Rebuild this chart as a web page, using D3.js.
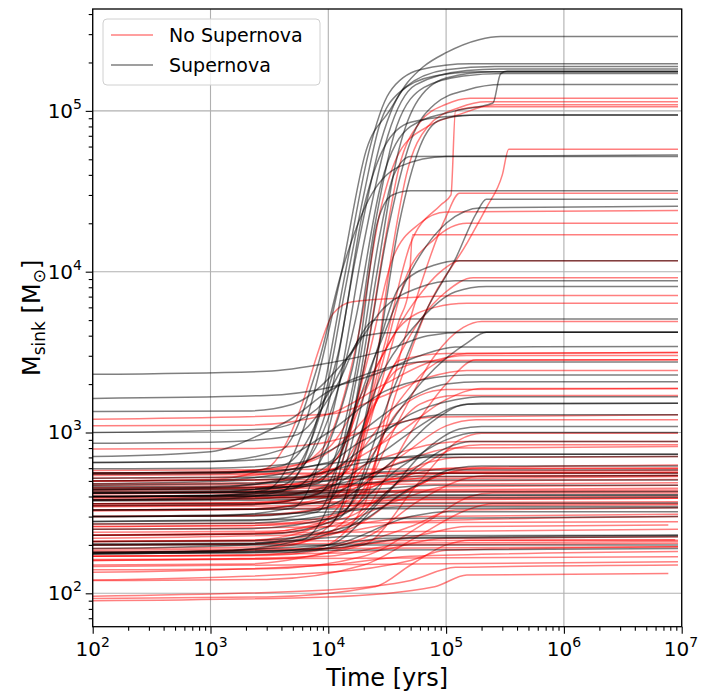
<!DOCTYPE html>
<html>
<head>
<meta charset="utf-8">
<script src="https://cdn.jsdelivr.net/npm/d3@7"></script>
<style>
  body { margin: 0; background: #fff; }
  svg { font-family: "DejaVu Sans", sans-serif; }
</style>
</head>
<body>
<svg id="svg" width="701" height="691"></svg>
<script>
// sink mass tracks [time (yr), mass (Msun)]
var noSnTracks = [
  [[1e2,400],[1e3,405],[4e3,430],[1.2e4,600],[2e4,2500],[3e4,1.5e4],[4e4,4.5e4],[6e4,8.5e4],[1e5,1.1e5],[1.6e5,1.2e5],[9.3e6,1.2e5]],
  [[1e2,180],[1e3,182],[5e3,200],[1.2e4,300],[2.4e4,2000],[3.4e4,1.2e4],[4.6e4,4e4],[7e4,8e4],[1.3e5,1.05e5],[2.2e5,1.14e5],[9.3e6,1.14e5]],
  [[1e2,520],[1e3,525],[4e3,570],[9e3,800],[1.8e4,4000],[2.8e4,2.5e4],[4e4,5.5e4],[7e4,8e4],[1.3e5,9.5e4],[2.6e5,1.09e5],[9.3e6,1.09e5]],
  [[1e2,350],[1e3,352],[5e3,380],[1.5e4,600],[3e4,3500],[5e4,1.5e4],[9e4,2.6e4],[1.1e5,3e4],[1.2e5,1.0e5],[2e5,1.06e5],[9.3e6,1.06e5]],
  [[1e2,230],[2e3,235],[8e3,270],[2e4,450],[4e4,2000],[7e4,6000],[1.5e5,1.5e4],[2.2e5,2.5e4],[3e5,4e4],[3.4e5,5.78e4],[9.3e6,5.78e4]],
  [[1e2,170],[2e3,172],[8e3,190],[2e4,350],[3.5e4,2000],[6e4,8000],[1e5,2.2e4],[1.3e5,3.07e4],[9.3e6,3.07e4]],
  [[1e2,440],[1e3,445],[5e3,480],[1.2e4,700],[2.2e4,3000],[3.5e4,1.2e4],[6e4,2e4],[1e5,2.35e4],[9.3e6,2.4e4]],
  [[1e2,300],[2e3,305],[7e3,330],[1.5e4,500],[2.8e4,2500],[4.5e4,9000],[8e4,1.6e4],[1.5e5,2e4],[9.3e6,2e4]],
  [[1e2,210],[2e3,213],[6e3,240],[1.4e4,400],[2.5e4,1500],[4e4,5000],[4.8e4,7500],[5.2e4,1.7e4],[9.3e6,1.7e4]],
  [[1e2,560],[1e3,565],[4e3,600],[1e4,800],[2.5e4,2500],[5e4,6000],[9e4,1e4],[1.3e5,1.17e4],[9.3e6,1.17e4]],
  [[1e2,380],[2e3,385],[6e3,420],[1.3e4,560],[3e4,2000],[6e4,5000],[1e5,7500],[1.7e5,9180],[9.3e6,9180]],
  [[1e2,500],[1e3,510],[3e3,600],[6e3,1500],[8e3,3000],[1.1e4,5500],[1.6e4,6500],[5e4,6900],[1.5e5,7100],[9.3e6,7100]],
  [[1e2,420],[2e3,430],[6e3,480],[1.2e4,700],[2.2e4,2000],[4e4,4500],[8e4,6000],[1.5e5,6370],[9.3e6,6370]],
  [[1e2,190],[3e3,195],[8e3,220],[1.5e4,300],[4e4,1200],[8e4,3000],[1.4e5,4500],[2e5,4900],[9.3e6,4900]],
  [[1e2,350],[2e3,355],[5e3,380],[1e4,450],[3e4,1200],[7e4,2500],[1.5e5,3100],[9.3e6,3140]],
  [[1e2,1100],[2e3,1110],[1e4,1300],[3e4,2000],[8e4,2800],[1.5e5,3010],[9.3e6,3010]],
  [[1e2,210],[3e3,215],[1e4,240],[2e4,320],[5e4,1000],[1e5,2000],[1.8e5,2830],[9.3e6,2830]],
  [[1e2,1210],[1e4,1300],[3e4,1700],[7e4,2200],[1.5e5,2430],[9.3e6,2430]],
  [[1e2,500],[3e3,510],[1e4,580],[4e4,1000],[1e5,1600],[2e5,1880],[9.3e6,1880]],
  [[1e2,260],[3e3,265],[1e4,290],[2e4,400],[3e4,1000],[6e4,1700],[1e5,1850],[9.3e6,1880]],
  [[1e2,790],[2e3,795],[8e3,850],[3e4,1100],[8e4,1250],[9.3e6,1290]],
  [[1e2,330],[2e3,335],[1e4,380],[4e4,700],[1e5,1100],[1.8e5,1200],[9.3e6,1200]],
  [[1e2,160],[3e3,163],[2e4,200],[6e4,500],[1.3e5,900],[2e5,990],[9.3e6,990]],
  [[1e2,400],[2e3,405],[1e4,440],[4e4,650],[1.2e5,800],[9.3e6,817]],
  [[1e2,360],[1e3,362],[5e3,380],[3e4,500],[1e5,600],[9.3e6,629]],
  [[1e2,260],[2e3,263],[1e4,300],[5e4,450],[1.2e5,570],[9.3e6,585]],
  [[1e2,500],[1e4,510],[9.3e6,532]],
  [[1e2,470],[1e4,475],[9.3e6,487]],
  [[1e2,230],[2e3,233],[1e4,260],[4e4,380],[1e5,460],[9.3e6,470]],
  [[1e2,430],[5e3,432],[9.3e6,439]],
  [[1e2,390],[9.3e6,400]],
  [[1e2,360],[1e4,370],[6e4,385],[9.3e6,390]],
  [[1e2,360],[9.3e6,371]],
  [[1e2,550],[1e4,560],[9.3e6,565]],
  [[1e2,150],[2e3,152],[1e4,180],[5e4,260],[1.2e5,330],[9.3e6,340]],
  [[1e2,270],[9.3e6,279]],
  [[1e2,180],[1e4,190],[6e4,230],[1.5e5,260],[7.7e6,266]],
  [[1e2,93],[3e3,95],[2.5e4,110],[5e4,150],[1e5,200],[1.6e5,214],[9.3e6,214]],
  [[1e2,121],[1e4,135],[5e4,160],[1e5,185],[9.3e6,195]],
  [[1e2,135],[1e4,150],[5e4,170],[9.3e6,182]],
  [[1e2,162],[9.3e6,169]],
  [[1e2,147],[9.3e6,157]],
  [[1e2,96],[1e4,105],[5e4,120],[1.2e5,145],[9.3e6,150]],
  [[1e2,90],[1e4,95],[8e4,110],[1.5e5,130],[7.7e6,133]],
  [[1e2,580],[1e4,590],[9.3e6,600]],
  [[1e2,540],[2e4,555],[9.3e6,560]],
  [[1e2,455],[1e4,460],[6e4,500],[9.3e6,510]],
  [[1e2,415],[3e4,425],[9.3e6,430]],
  [[1e2,395],[1e4,400],[5e4,440],[9.3e6,450]],
  [[1e2,345],[1e4,350],[9.3e6,355]],
  [[1e2,325],[1e4,340],[4e4,380],[9.3e6,390]],
  [[1e2,230],[1e4,240],[9.3e6,250]],
  [[1e2,220],[1e4,235],[5e4,280],[9.3e6,300]],
  [[1e2,200],[9.3e6,210]],
  [[1e2,185],[1e4,190],[9.3e6,195]],
  [[1e2,170],[2e4,180],[1e5,220],[9.3e6,225]],
  [[1e2,210],[8.8e6,215]],
  [[1e2,250],[1e4,260],[6e4,300],[9.3e6,310]],
  [[1e2,440],[1e4,450],[4e4,520],[1.2e5,560],[9.3e6,565]],
  [[1e2,380],[1e4,400],[3e4,480],[8e4,530],[9.3e6,540]],
  [[1e2,160],[1e4,170],[4e4,200],[9.3e6,205]],
  [[1e2,480],[2e3,485],[1.2e4,600],[2.5e4,1500],[4e4,2800],[1e5,3100],[9.3e6,3140]],
  [[1e2,450],[2e3,455],[1e4,520],[3e4,700],[8e4,850],[1.5e5,880],[9.3e6,880]],
  [[1e2,300],[2e3,303],[1e4,340],[3e4,500],[7e4,650],[1.3e5,700],[9.3e6,710]],
  [[1e2,200],[3e3,203],[1.5e4,250],[4e4,400],[1e5,560],[2e5,600],[9.3e6,600]],
  [[1e2,240],[3e3,243],[1.5e4,300],[5e4,550],[1.2e5,800],[2e5,840],[9.3e6,840]],
  [[1e2,170],[3e3,172],[2e4,220],[6e4,380],[1.5e5,520],[2.2e5,540],[9.3e6,540]],
  [[1e2,120],[3e3,122],[2e4,150],[6e4,230],[1.5e5,330],[2.5e5,360],[9.3e6,360]],
  [[1e2,330],[2e3,333],[1.2e4,420],[3e4,900],[6e4,1500],[1.2e5,1700],[9.3e6,1700]],
  [[1e2,560],[1e3,565],[6e3,640],[2e4,1200],[4e4,2500],[8e4,2800],[9.3e6,2830]],
  [[1e2,140],[3e3,142],[2e4,170],[7e4,280],[1.6e5,400],[2.5e5,420],[9.3e6,420]]
];

var snTracks = [
  [[1e2,400],[1e3,405],[3e3,440],[6e3,1000],[1.26e4,9000],[2.1e4,5.7e4],[3.3e4,1.0e5],[4.7e4,1.5e5],[6.4e4,1.88e5],[1.0e5,2.3e5],[1.9e5,2.77e5],[2.9e5,2.9e5],[9.3e6,2.9e5]],
  [[1e2,380],[1e3,385],[4e3,430],[8e3,1200],[1.4e4,1.0e4],[2.2e4,5.5e4],[3.3e4,1.3e5],[6e4,1.8e5],[1.6e5,1.96e5],[9.3e6,1.96e5]],
  [[1e2,420],[1e3,425],[4e3,470],[1e4,1500],[1.7e4,1.2e4],[2.8e4,6.5e4],[4.5e4,1.4e5],[1e5,1.8e5],[2.6e5,1.89e5],[9.3e6,1.89e5]],
  [[1e2,300],[1e3,302],[5e3,340],[1.2e4,1800],[2e4,1.5e4],[3.2e4,7e4],[5.5e4,1.45e5],[1.5e5,1.78e5],[2.8e5,1.82e5],[9.3e6,1.82e5]],
  [[1e2,450],[1e3,455],[4e3,510],[9e3,1500],[1.4e4,8000],[2e4,3e4],[2.7e4,8e4],[4e4,1.3e5],[8e4,1.65e5],[2e5,1.75e5],[9.3e6,1.75e5]],
  [[1e2,180],[1e3,182],[6e3,215],[1.6e4,1200],[2.6e4,1e4],[3.8e4,5e4],[5.5e4,1.1e5],[1e5,1.6e5],[2.5e5,1.75e5],[9.3e6,1.75e5]],
  [[1e2,400],[1e3,404],[5e3,450],[1.6e4,2500],[2.5e4,2e4],[3.8e4,8e4],[6.5e4,1.4e5],[1.4e5,1.65e5],[3e5,1.71e5],[9.3e6,1.71e5]],
  [[1e2,350],[2e3,355],[8e3,410],[2e4,2500],[3.2e4,1.8e4],[5e4,6.5e4],[8e4,1.1e5],[1.5e5,1.35e5],[3e5,1.46e5],[9.3e6,1.46e5]],
  [[1e2,550],[1e3,555],[4e3,620],[1.2e4,3000],[2e4,2.5e4],[3e4,6e4],[5e4,8.5e4],[1.2e5,9.3e4],[2.5e5,9.45e4],[9.3e6,9.45e4]],
  [[1e2,200],[2e3,203],[1e4,260],[2.5e4,2500],[4e4,2e4],[6e4,6e4],[9e4,8.8e4],[1.6e5,9.4e4],[9.3e6,9.4e4]],
  [[1e2,500],[1e3,505],[5e3,570],[1.7e4,5000],[2.8e4,3.5e4],[5e4,8e4],[1.2e5,1e5],[2.5e5,1.12e5],[2.9e5,1.7e5],[3.3e5,1.77e5],[9.3e6,1.77e5]],
  [[1e2,280],[2e3,283],[8e3,320],[1.8e4,2500],[2.7e4,1.6e4],[3.6e4,4e4],[5e4,5.2e4],[9.3e6,5.32e4]],
  [[1e2,650],[1e3,660],[4e3,780],[8e3,2500],[1.3e4,1e4],[2.2e4,2.8e4],[4e4,4.5e4],[1e5,5.2e4],[9.3e6,5.2e4]],
  [[1e2,420],[2e3,425],[8e3,480],[1.8e4,3000],[2.6e4,2e4],[3.5e4,3e4],[5e4,3.19e4],[9.3e6,3.19e4]],
  [[1e2,230],[3e3,234],[1.2e4,290],[3.5e4,1800],[7e4,6000],[1.2e5,1.2e4],[1.8e5,2.3e4],[2.2e5,2.82e4],[9.3e6,2.82e4]],
  [[1e2,560],[2e3,565],[1e4,650],[2.5e4,3000],[5e4,1e4],[1e5,2e4],[2e5,2.5e4],[9.3e6,2.55e4]],
  [[1e2,330],[2e3,333],[1e4,380],[2.5e4,3000],[4e4,8000],[8e4,1.1e4],[1.3e5,1.17e4],[9.3e6,1.17e4]],
  [[1e2,2300],[3e3,2400],[1e4,2700],[3.3e4,3300],[7e4,4000],[1.5e5,4200],[9.3e6,4200]],
  [[1e2,1630],[3e3,1700],[1e4,1900],[2.5e4,2300],[6e4,3000],[1.2e5,3400],[9.3e6,3420]],
  [[1e2,1350],[2e3,1360],[5e3,1500],[1.5e4,3000],[3e4,6000],[6e4,8000],[1.2e5,8770],[9.3e6,8770]],
  [[1e2,440],[2e3,444],[1.2e4,520],[3e4,2500],[6e4,5000],[1.2e5,7500],[2.2e5,8080],[9.3e6,8080]],
  [[1e2,1000],[3e3,1050],[8e3,1400],[1.5e4,3000],[2.5e4,5000],[5e4,5080],[9.3e6,5080]],
  [[1e2,857],[1e3,870],[5e3,950],[1.2e4,2000],[2e4,4000],[4e4,4200],[9.3e6,4200]],
  [[1e2,270],[2e3,273],[1.3e4,320],[3e4,1000],[8e4,2500],[1.5e5,3600],[2.2e5,4200],[9.3e6,4200]],
  [[1e2,708],[1e3,760],[2.8e3,990],[4.7e3,1200],[1e4,1800],[3e4,2500],[6e4,2740],[9.3e6,2740]],
  [[1e2,651],[1e3,660],[4e3,700],[1e4,1000],[3e4,1800],[8e4,2200],[1.5e5,2280],[9.3e6,2280]],
  [[1e2,595],[1e3,600],[5e3,640],[1.5e4,900],[4e4,1500],[1e5,2000],[2e5,2070],[9.3e6,2070]],
  [[1e2,429],[1e3,432],[6e3,470],[2e4,800],[5e4,1300],[1.2e5,1600],[2e5,1670],[9.3e6,1670]],
  [[1e2,400],[2e3,403],[8e3,430],[2.5e4,700],[6e4,1100],[1.2e5,1450],[2e5,1520],[9.3e6,1520]],
  [[1e2,300],[2e3,302],[8e3,330],[3e4,600],[8e4,1200],[1.5e5,1500],[9.3e6,1520]],
  [[1e2,177],[2e3,179],[1e4,200],[3e4,400],[7e4,800],[1.3e5,1050],[2e5,1090],[9.3e6,1090]],
  [[1e2,203],[2e3,205],[1.2e4,240],[4e4,500],[1e5,800],[1.6e5,880],[9.3e6,880]],
  [[1e2,480],[5e3,520],[2e4,650],[6e4,720],[1.2e5,733],[9.3e6,733]],
  [[1e2,380],[1e4,420],[3e4,600],[8e4,720],[1.5e5,733],[9.3e6,733]],
  [[1e2,560],[3e3,570],[1e4,640],[4e4,700],[9.3e6,708]],
  [[1e2,470],[1e4,500],[3e4,570],[9e4,585],[9.3e6,585]],
  [[1e2,400],[5e3,420],[2e4,520],[6e4,558],[9.3e6,558]],
  [[1e2,440],[1e4,470],[4e4,500],[1e5,507],[9.3e6,507]],
  [[1e2,380],[3e3,390],[2e4,405],[9.3e6,409]],
  [[1e2,400],[1e3,402],[1e4,408],[9.3e6,409]],
  [[1e2,300],[1e4,320],[5e4,346],[9.3e6,346]],
  [[1e2,177],[1e4,200],[5e4,300],[1e5,322],[9.3e6,322]],
  [[1e2,280],[1e4,290],[9.3e6,300]],
  [[1e2,177],[5e3,180],[3e4,220],[9.3e6,230]],
  [[1e2,190],[2e3,200],[2e4,228],[9.3e6,230]],
  [[1e2,200],[1e4,200],[9.3e6,200]],
  [[1e2,375],[3e3,380],[1e4,390],[9.3e6,395]],
  [[1e2,420],[2e4,440],[8e4,470],[9.3e6,470]],
  [[1e2,360],[9.3e6,365]],
  [[1e2,520],[1e4,530],[9.3e6,540]],
  [[1e2,420],[1e4,425],[9.3e6,430]],
  [[1e2,330],[1e4,335],[9.3e6,340]],
  [[1e2,180],[1e4,185],[9.3e6,190]],
  [[1e2,175],[1e4,190],[5e4,220],[9.3e6,225]],
  [[1e2,250],[2e3,252],[1.2e4,300],[4e4,600],[1e5,900],[1.8e5,1000],[9.3e6,1000]],
  [[1e2,460],[1e3,462],[6e3,520],[2e4,900],[5e4,1200],[1e5,1290],[9.3e6,1290]],
  [[1e2,210],[2e3,212],[1.5e4,260],[5e4,450],[1.2e5,600],[2e5,620],[9.3e6,620]]
];

var seriesNames = ["No Supernova", "Supernova"];
var seriesColors = ["red", "black"];
var xMajor = [1e2, 1e3, 1e4, 1e5, 1e6, 1e7];
var yMajor = [1e2, 1e3, 1e4, 1e5];
var xLimits = [1e2, 1e7];
var yLimits = [62, 4.3e5];

var svg = d3.select("#svg");
var L = 92.7, R = 681.7, T = 9, B = 626.7;

var x = d3.scaleLog().domain(xLimits).range([L, R]);
var y = d3.scaleLog().domain(yLimits).range([B, T]);

svg.append("clipPath").attr("id", "clip")
    .append("rect")
    .attr("x", L).attr("y", T)
    .attr("width", R - L).attr("height", B - T);

//grid
var grid = svg.append("g");
grid.selectAll(".gx").data(xMajor).enter().append("line")
    .attr("x1", d => x(d)).attr("x2", d => x(d))
    .attr("y1", T).attr("y2", B)
    .attr("stroke", "#b0b0b0").attr("stroke-width", 1.1);
grid.selectAll(".gy").data(yMajor).enter().append("line")
    .attr("x1", L).attr("x2", R)
    .attr("y1", d => y(d)).attr("y2", d => y(d))
    .attr("stroke", "#b0b0b0").attr("stroke-width", 1.1);

var line = d3.line()
    .x(d => x(d[0]))
    .y(d => y(d[1]))
    .curve(d3.curveMonotoneX);

var plot = svg.append("g").attr("clip-path", "url(#clip)");
[noSnTracks, snTracks].forEach((tracks, k) => {
    plot.append("g").selectAll("path")
        .data(tracks)
        .enter()
        .append("path")
        .attr("d", line)
        .attr("fill", "none")
        .attr("stroke", seriesColors[k])
        .attr("stroke-opacity", 0.5)
        .attr("stroke-width", 1.5);
});

//axes with minor ticks
var xMinor = x.ticks().filter(v => xMajor.indexOf(v) < 0);
var yMinor = y.ticks().filter(v => yMajor.indexOf(v) < 0);

function styleAxis(g) {
    g.select(".domain").remove();
    g.selectAll("line").attr("stroke", "black").attr("stroke-width", 1.1);
}
svg.append("g").attr("transform", "translate(0," + B + ")")
    .call(d3.axisBottom(x).tickValues(xMinor).tickSize(4).tickFormat(""))
    .call(styleAxis);
svg.append("g").attr("transform", "translate(0," + B + ")")
    .call(d3.axisBottom(x).tickValues(xMajor).tickSize(7).tickFormat(""))
    .call(styleAxis);
svg.append("g").attr("transform", "translate(" + L + ",0)")
    .call(d3.axisLeft(y).tickValues(yMinor).tickSize(4).tickFormat(""))
    .call(styleAxis);
svg.append("g").attr("transform", "translate(" + L + ",0)")
    .call(d3.axisLeft(y).tickValues(yMajor).tickSize(7).tickFormat(""))
    .call(styleAxis);

svg.append("rect")
    .attr("x", L).attr("y", T)
    .attr("width", R - L).attr("height", B - T)
    .attr("fill", "none").attr("stroke", "black").attr("stroke-width", 1.3);

// tick labels 10^n
function powLabel(sel) {
    sel.append("tspan").text("10");
    sel.append("tspan")
        .attr("dy", -9).attr("font-size", 14)
        .text(d => Math.round(Math.log10(d)));
}
svg.selectAll(".xl").data(xMajor).enter().append("text")
    .attr("x", d => Math.min(x(d), 681))
    .attr("y", 656)
    .attr("text-anchor", "middle")
    .attr("font-size", 20)
    .call(powLabel);
svg.selectAll(".yl").data(yMajor).enter().append("text")
    .attr("x", 82).attr("y", d => y(d) + 7)
    .attr("text-anchor", "end")
    .attr("font-size", 20)
    .call(powLabel);

// axis labels
svg.append("text")
    .attr("x", (L + R) / 2).attr("y", 686)
    .attr("text-anchor", "middle")
    .attr("font-size", 24)
    .text("Time [yrs]");

var yl = svg.append("text")
    .attr("transform", "translate(40," + ((T + B) / 2) + ") rotate(-90)")
    .attr("text-anchor", "middle")
    .attr("font-size", 24);
yl.append("tspan").text("M");
yl.append("tspan").attr("font-size", 17).attr("dy", 5).text("sink");
yl.append("tspan").attr("dy", -5).text(" [M");
yl.append("tspan").attr("font-size", 17).attr("dy", 5).text("\u2299");
yl.append("tspan").attr("dy", -5).text("]");

// legend
var lg = svg.append("g");
lg.append("rect")
    .attr("x", 103).attr("y", 19)
    .attr("width", 217).attr("height", 66)
    .attr("rx", 4)
    .attr("fill", "white").attr("fill-opacity", 0.8)
    .attr("stroke", "#d0d0d0").attr("stroke-width", 1);
seriesNames.forEach((name, i) => {
    var yy = 35 + i * 30;
    lg.append("line")
        .attr("x1", 111).attr("x2", 153)
        .attr("y1", yy).attr("y2", yy)
        .attr("stroke", seriesColors[i])
        .attr("stroke-opacity", 0.5)
        .attr("stroke-width", 1.5);
    lg.append("text")
        .attr("x", 169).attr("y", yy + 7)
        .attr("font-size", 19)
        .text(name);
});
</script>
</body>
</html>
